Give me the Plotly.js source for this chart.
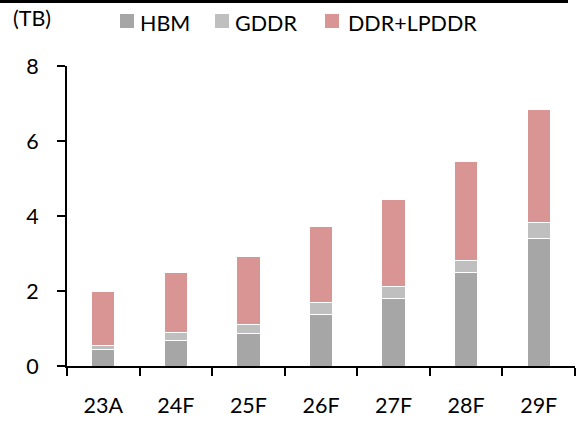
<!DOCTYPE html>
<html>
<head>
<meta charset="utf-8">
<script src="https://cdn.plot.ly/plotly-3.0.1.min.js"></script>
<style>html,body{margin:0;padding:0;background:#fff;}#chart{width:581px;height:423px;}</style>
</head>
<body>
<div id="chart"></div>
<script>
var categories = ["23A", "24F", "25F", "26F", "27F", "28F", "29F"];
var hbm = [0.45, 0.67, 0.88, 1.37, 1.80, 2.49, 3.39];
var gddr = [0.11, 0.22, 0.22, 0.33, 0.32, 0.33, 0.44];
var ddrLpddr = [1.44, 1.60, 1.82, 2.02, 2.31, 2.63, 3.01];
var seriesNames = ["HBM", "GDDR", "DDR+LPDDR"];
var colors = ["#a6a6a6", "#bfbfbf", "#d99594"];
var unitLabel = "(TB)";

var FONT = "Lato, 'Noto Sans', sans-serif";
var FS = 21.5;
var W = 581, H = 423, L = 67, R = 6, T = 66, B = 57;
var pw = W - L - R, ph = H - T - B;
function px(x) { return (x - L) / pw; }
function py(y) { return (H - B - y) / ph; }

var vals = [hbm, gddr, ddrLpddr];
var traces = vals.map(function (v, i) {
  return {
    type: "bar", x: categories, y: v, name: seriesNames[i],
    marker: { color: colors[i], line: { color: "#ffffff", width: 1 } },
    hoverinfo: "x+y+name"
  };
});

// manual legend
var legendX = [[120, 139], [215, 234], [325, 347]];
var shapes = [{
  type: "rect", xref: "paper", yref: "paper",
  x0: px(0), x1: px(568), y0: py(3), y1: py(0),
  fillcolor: "#000", line: { width: 0 }
}];
var annotations = [{
  xref: "paper", yref: "paper", x: px(11), y: py(18), xanchor: "left", yanchor: "middle",
  text: unitLabel, showarrow: false, font: { family: FONT, size: FS, color: "#000" }
}];
seriesNames.forEach(function (n, i) {
  shapes.push({
    type: "rect", xref: "paper", yref: "paper",
    x0: px(legendX[i][0]), x1: px(legendX[i][0] + 14), y0: py(28), y1: py(14),
    fillcolor: colors[i], line: { width: 0 }
  });
  annotations.push({
    xref: "paper", yref: "paper", x: px(legendX[i][1] - 1), y: py(23), xanchor: "left", yanchor: "middle",
    text: n, showarrow: false, font: { family: FONT, size: FS, color: "#000" }
  });
});

var layout = {
  width: W, height: H,
  margin: { l: L, r: R, t: T, b: B, pad: 0 },
  paper_bgcolor: "#fff", plot_bgcolor: "#fff",
  barmode: "stack", bargap: 0.68,
  showlegend: false,
  font: { family: FONT, size: FS, color: "#000" },
  xaxis: {
    type: "category", showline: true, linecolor: "#000", linewidth: 2,
    ticks: "outside", tickson: "boundaries", ticklen: 8, tickwidth: 2, tickcolor: "#000",
    ticklabelstandoff: 19, showgrid: false, zeroline: false,
    tickfont: { family: FONT, size: FS, color: "#000" }
  },
  yaxis: {
    range: [0, 8], dtick: 2, showline: true, linecolor: "#000", linewidth: 2,
    ticks: "outside", ticklen: 8, tickwidth: 2, tickcolor: "#000",
    ticklabelstandoff: 14, showgrid: false, zeroline: false,
    tickfont: { family: FONT, size: FS, color: "#000" }
  },
  shapes: shapes,
  annotations: annotations
};

Plotly.newPlot("chart", traces, layout, { displayModeBar: false, staticPlot: true });
</script>
</body>
</html>
